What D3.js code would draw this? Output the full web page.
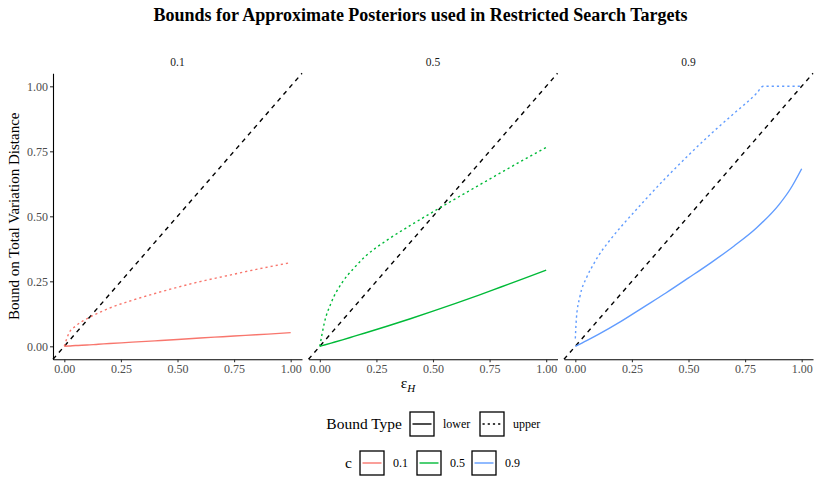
<!DOCTYPE html>
<html>
<head>
<meta charset="utf-8">
<script src="https://cdn.jsdelivr.net/npm/d3@7"></script>
<style>
  body { margin: 0; background: #fff; }
  text { font-family: "Liberation Serif", "Times New Roman", serif; }
</style>
</head>
<body>
<script>
// facet values and colours
var cValues = ["0.1", "0.5", "0.9"];
var cColors = ["#F8766D", "#00BA38", "#619CFF"];
var boundTypes = ["lower", "upper"];
var tickValues = [0, 0.25, 0.5, 0.75, 1];

// epsilon_H grid
var epsGrid = [0, 0.02, 0.05, 0.1, 0.15, 0.2, 0.3, 0.4, 0.5, 0.6, 0.7, 0.8, 0.9, 1.0];

// c = 0.1
var lower01 = [0, 0.001, 0.003, 0.005, 0.008, 0.0105, 0.016, 0.021, 0.026, 0.032, 0.037, 0.042, 0.047, 0.0525];
var upper01 = [0, 0.05, 0.078, 0.106, 0.128, 0.147, 0.177, 0.203, 0.227, 0.249, 0.268, 0.287, 0.305, 0.322];
// c = 0.5
var lower05 = [0, 0.005, 0.0125, 0.025, 0.038, 0.051, 0.078, 0.106, 0.135, 0.165, 0.196, 0.228, 0.26, 0.293];
var upper05 = [0, 0.09, 0.167, 0.247, 0.3, 0.345, 0.41, 0.465, 0.517, 0.568, 0.618, 0.668, 0.717, 0.765];
// c = 0.9
var epsLower09 = [0, 0.05, 0.1, 0.2, 0.3, 0.4, 0.5, 0.6, 0.7, 0.8, 0.9, 0.95, 1.0];
var lower09 = [0, 0.022, 0.045, 0.095, 0.15, 0.205, 0.263, 0.322, 0.385, 0.455, 0.545, 0.605, 0.683];
var epsUpper09 = [0, 0.005, 0.02, 0.05, 0.08, 0.1, 0.15, 0.2, 0.25, 0.3, 0.4, 0.5, 0.6, 0.7, 0.8, 0.83, 0.9, 1.0];
var upper09 = [0.03, 0.11, 0.19, 0.265, 0.315, 0.345, 0.405, 0.458, 0.507, 0.555, 0.648, 0.735, 0.818, 0.895, 0.972, 1.0, 1.0, 1.0];

// reference line y = x
var abIntercept = 0, abSlope = 1;

var series = [
  {c: 0, type: "lower", x: epsGrid, y: lower01},
  {c: 0, type: "upper", x: epsGrid, y: upper01},
  {c: 1, type: "lower", x: epsGrid, y: lower05},
  {c: 1, type: "upper", x: epsGrid, y: upper05},
  {c: 2, type: "lower", x: epsLower09, y: lower09},
  {c: 2, type: "upper", x: epsUpper09, y: upper09}
];

var width = 820, height = 484;
var svg = d3.select("body").append("svg")
    .attr("width", width)
    .attr("height", height);

var panelTop = 73.3, panelBottom = 359.3;
var panelLefts = [53, 308.5, 564];
var panelWidth = 249;
var dashes = {lower: null, upper: "2.2,3"};

var y = d3.scaleLinear().domain([-0.05, 1.05]).range([panelBottom, panelTop]);

// title
svg.append("text")
    .attr("x", 420.5).attr("y", 21)
    .attr("text-anchor", "middle")
    .style("font-size", "18px")
    .style("font-weight", "bold")
    .text("Bounds for Approximate Posteriors used in Restricted Search Targets");

cValues.forEach(function(cv, i) {
    var left = panelLefts[i];
    var x = d3.scaleLinear().domain([-0.05, 1.05]).range([left, left + panelWidth]);
    var g = svg.append("g");

    // strip label
    g.append("text")
        .attr("x", left + panelWidth / 2).attr("y", 65.5)
        .attr("text-anchor", "middle")
        .style("font-size", "11.5px")
        .attr("fill", "#1a1a1a")
        .text(cv);

    // dashed y = x line across the panel
    var dom = x.domain();
    g.append("line")
        .attr("x1", x(dom[0])).attr("y1", y(abIntercept + abSlope * dom[0]))
        .attr("x2", x(dom[1])).attr("y2", y(abIntercept + abSlope * dom[1]))
        .attr("stroke", "#000")
        .attr("stroke-width", 1.4)
        .attr("stroke-dasharray", "4.5,4.5");

    var line = d3.line()
        .x(function(d) { return x(d[0]); })
        .y(function(d) { return y(d[1]); })
        .curve(d3.curveMonotoneX);

    series.filter(function(s) { return s.c == i; }).forEach(function(s) {
        g.append("path")
            .attr("d", line(d3.zip(s.x, s.y)))
            .attr("fill", "none")
            .attr("stroke", cColors[i])
            .attr("stroke-width", 1.4)
            .attr("stroke-dasharray", dashes[s.type]);
    });

    // x axis on every panel
    var xAxis = d3.axisBottom(x).tickValues(tickValues).tickFormat(d3.format(".2f"))
        .tickSizeInner(3).tickSizeOuter(0).tickPadding(2);
    var gx = g.append("g")
        .attr("transform", "translate(0," + panelBottom + ")")
        .call(xAxis);
    styleAxis(gx);

    // y axis only on the first panel
    if (i == 0) {
        var yAxis = d3.axisLeft(y).tickValues(tickValues).tickFormat(d3.format(".2f"))
            .tickSizeInner(3).tickSizeOuter(0).tickPadding(2);
        var gy = g.append("g")
            .attr("transform", "translate(" + left + ",0)")
            .call(yAxis);
        styleAxis(gy);
    }
});

function styleAxis(sel) {
    sel.attr("font-family", null);
    sel.select(".domain").attr("stroke", "#000").attr("stroke-width", 1.1);
    sel.selectAll(".tick line").attr("stroke", "#333").attr("stroke-width", 1.1);
    sel.selectAll(".tick text")
        .attr("fill", "#4d4d4d")
        .style("font-family", "'Liberation Serif', serif")
        .style("font-size", "12px");
}

// axis titles
svg.append("text")
    .attr("transform", "translate(19," + (panelTop + panelBottom) / 2 + ") rotate(-90)")
    .attr("text-anchor", "middle")
    .style("font-size", "15px")
    .text("Bound on Total Variation Distance");

var xt = svg.append("text")
    .attr("x", 408).attr("y", 388)
    .attr("text-anchor", "middle")
    .style("font-size", "15.5px");
xt.append("tspan").text("ε");
xt.append("tspan").attr("dy", 4).style("font-size", "11px").style("font-style", "italic").text("H");

// legend
var keySize = 24;
function legendKey(x0, yc, color, dash) {
    svg.append("rect")
        .attr("x", x0).attr("y", yc - keySize / 2)
        .attr("width", keySize).attr("height", keySize)
        .attr("fill", "#fff")
        .attr("stroke", "#000")
        .attr("stroke-width", 1.3);
    svg.append("line")
        .attr("x1", x0 + 2.5).attr("x2", x0 + keySize - 2.5)
        .attr("y1", yc).attr("y2", yc)
        .attr("stroke", color)
        .attr("stroke-width", 1.4)
        .attr("stroke-dasharray", dash);
}

var row1 = 424, row2 = 463;
svg.append("text")
    .attr("x", 402).attr("y", row1 + 5)
    .attr("text-anchor", "end")
    .style("font-size", "15.5px")
    .text("Bound Type");
var btKeyX = [410, 480];
boundTypes.forEach(function(bt, i) {
    legendKey(btKeyX[i], row1, "#000", dashes[bt]);
    svg.append("text")
        .attr("x", btKeyX[i] + 33).attr("y", row1 + 4)
        .style("font-size", "12px")
        .text(bt);
});

svg.append("text")
    .attr("x", 352).attr("y", row2 + 5)
    .attr("text-anchor", "end")
    .style("font-size", "15.5px")
    .text("c");
var cKeyX = [360, 417, 472];
cValues.forEach(function(cv, i) {
    legendKey(cKeyX[i], row2, cColors[i], null);
    svg.append("text")
        .attr("x", cKeyX[i] + 33).attr("y", row2 + 4)
        .style("font-size", "12px")
        .text(cv);
});
</script>
</body>
</html>
